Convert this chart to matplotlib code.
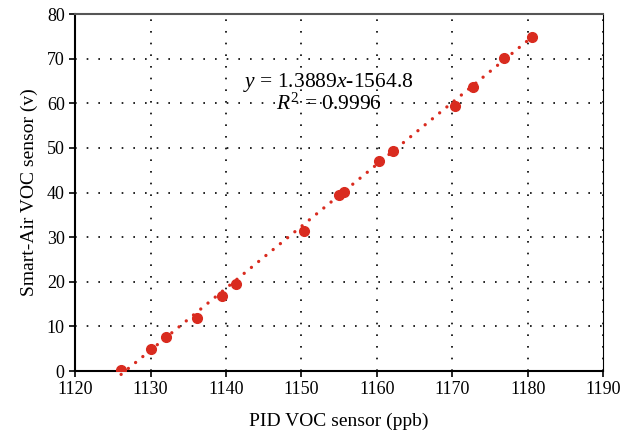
import numpy as np
from matplotlib import pyplot as plt

# readings from the two sensors
pid_ppb = [1126.1, 1130.0, 1132.1, 1136.1, 1139.5, 1141.3, 1150.4, 1155.0, 1155.7,
           1160.3, 1162.2, 1170.4, 1172.8, 1176.8, 1180.5]
smart_air_v = [0.2, 4.9, 7.6, 11.9, 16.8, 19.5, 31.4, 39.5, 40.2,
               47.1, 49.3, 59.4, 63.7, 70.2, 74.9]
slope = 1.3889
intercept = -1564.8
r2 = 0.9996

red = '#d92b1f'
plt.rcParams['font.family'] = ['Liberation Serif', 'DejaVu Serif']
plt.rcParams['mathtext.fontset'] = 'custom'
plt.rcParams['mathtext.rm'] = 'Liberation Serif'
plt.rcParams['mathtext.it'] = 'Liberation Serif:italic'

fig = plt.figure(figsize=(6.31, 4.43), dpi=100)
ax = fig.add_axes([0.119, 0.1625, 0.837, 0.8055])

x = np.array(pid_ppb)
y = np.array(smart_air_v)
ax.plot(x, y, 'o', color=red, markersize=7, zorder=3)

xf = np.array([x.min(), x.max()])
ax.plot(xf, slope * xf + intercept, color=red, lw=2.4, dashes=(0.01, 2.8),
        dash_capstyle='round', zorder=2, clip_on=False)

ax.text(1153.6, 62.3, '$y$ = 1.3889$x$-1564.8\n$R^2$ = 0.9996', ha='center', va='center',
        fontsize=15.5, linespacing=0.95, multialignment='center')

ax.set_xlim(1120, 1190)
ax.set_ylim(0, 80)
ax.set_xticks(np.arange(1120, 1191, 10))
ax.set_yticks(np.arange(0, 81, 10))
ax.grid(True, color='black', linestyle=(0, (1, 6)), lw=1.2)
ax.tick_params(direction='out', length=4, labelsize=13, width=1.2)
for s in ['left', 'bottom']:
    ax.spines[s].set_linewidth(1.5)
ax.spines['top'].set_color('#555555')
ax.spines['top'].set_linewidth(1.5)
ax.spines['right'].set_linewidth(0.8)

ax.set_xlabel('PID VOC sensor (ppb)', fontsize=14, labelpad=10)
ax.set_ylabel('Smart-Air VOC sensor (v)', fontsize=14, labelpad=6)

plt.savefig('out.png', dpi=100)
